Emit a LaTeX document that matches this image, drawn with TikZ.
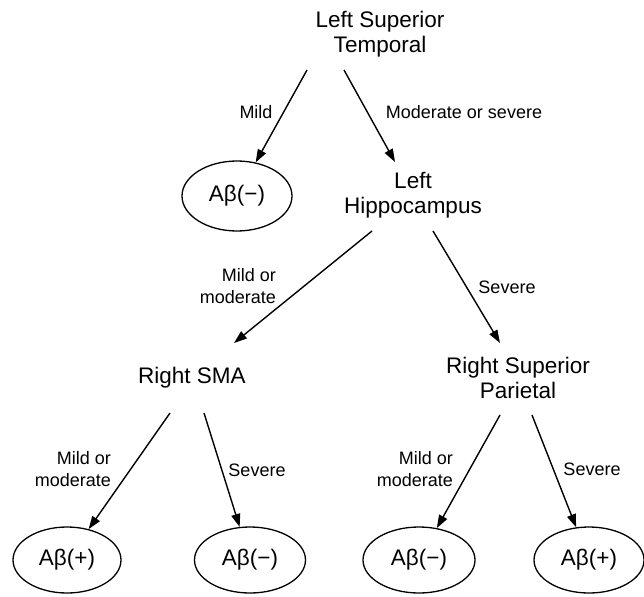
\documentclass[tikz,border=0pt]{standalone}
\usepackage{fontspec}
\setmainfont{Liberation Sans}
\usetikzlibrary{arrows.meta,shapes.geometric}
\tikzset{
  txt/.style={align=center,inner sep=0pt,font=\fontsize{22.5}{25.5}\selectfont},
  lbl/.style={inner sep=0pt,font=\fontsize{18}{22}\selectfont},
  oval/.style={draw,line width=1.3pt,ellipse,inner sep=0pt,minimum height=66pt,font=\fontsize{22.5}{25}\selectfont},
  conn/.style={line width=1.4pt,-{Triangle[length=13pt,width=9pt]}},
}
\begin{document}
\begin{tikzpicture}[x=1pt,y=-1pt]
\useasboundingbox (0,0) rectangle (644,596);
% nodes
\node[txt] (lst) at (380,34) {Left Superior\\Temporal};
\node[oval,minimum width=110pt,minimum height=70pt] (e1) at (237,196) {Aβ(−)};
\node[txt] (lh) at (413,195) {Left\\Hippocampus};
\node[txt] (rsma) at (192,378) {Right SMA};
\node[txt] (rsp) at (518,378) {Right Superior\\Parietal};
\node[oval,minimum width=108pt] (e2) at (67,560) {Aβ(+)};
\node[oval,minimum width=111pt] (e3) at (250,560) {Aβ(−)};
\node[oval,minimum width=112pt] (e4) at (419,560) {Aβ(−)};
\node[oval,minimum width=110pt] (e5) at (589,560) {Aβ(+)};
% connector ends
\coordinate (a1) at (307,70);
\coordinate (a2) at (344,70);
\coordinate (a2e) at (395,162);
\coordinate (b1) at (372,231);
\coordinate (b1e) at (234,343);
\coordinate (b2) at (433,231);
\coordinate (b2e) at (500,343);
\coordinate (c1) at (170,413);
\coordinate (c2) at (204,413);
\coordinate (d1) at (500,415);
\coordinate (d2) at (532,415);
% connectors
\draw[conn] (a1) -- (e1);
\draw[conn] (a2) -- (a2e);
\draw[conn] (b1) -- (b1e);
\draw[conn] (b2) -- (b2e);
\draw[conn] (c1) -- (e2);
\draw[conn] (c2) -- (e3);
\draw[conn] (d1) -- (e4);
\draw[conn] (d2) -- (e5);
% labels
\node[lbl] (l1) at (256,112) {Mild};
\node[lbl] (l2) at (464,112) {Moderate or severe};
\node[lbl,align=right,anchor=east] (l3) at (276,286) {Mild or\\moderate};
\node[lbl] (l4) at (507,287) {Severe};
\node[lbl,align=right,anchor=east] (l5) at (111,469) {Mild or\\moderate};
\node[lbl] (l6) at (257,470) {Severe};
\node[lbl,align=right,anchor=east] (l7) at (453,469) {Mild or\\moderate};
\node[lbl] (l8) at (592,469) {Severe};
\end{tikzpicture}
\end{document}
